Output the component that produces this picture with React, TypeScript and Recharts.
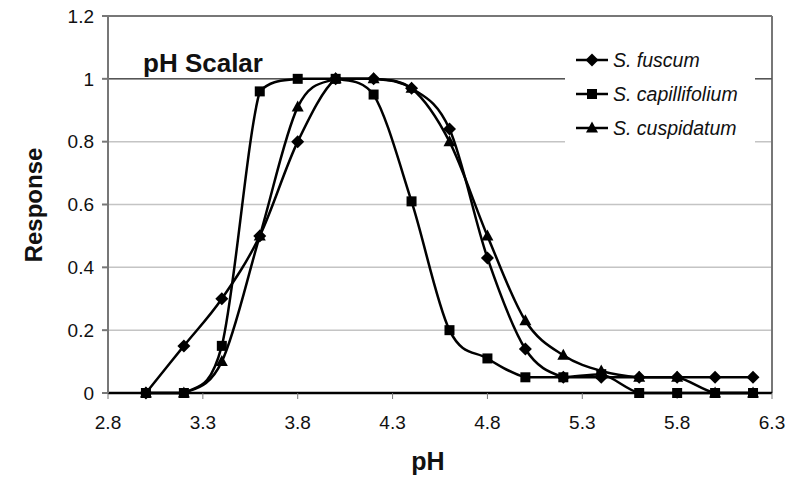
import React from "react";
import {
  LineChart,
  Line,
  XAxis,
  YAxis,
  CartesianGrid,
  ReferenceLine,
  Legend,
} from "recharts";

const phValues = [3.0, 3.2, 3.4, 3.6, 3.8, 4.0, 4.2, 4.4, 4.6, 4.8, 5.0, 5.2, 5.4, 5.6, 5.8, 6.0, 6.2];
const fuscum = [0, 0.15, 0.3, 0.5, 0.8, 1.0, 1.0, 0.97, 0.84, 0.43, 0.14, 0.05, 0.05, 0.05, 0.05, 0.05, 0.05];
const capillifolium = [0, 0, 0.15, 0.96, 1.0, 1.0, 0.95, 0.61, 0.2, 0.11, 0.05, 0.05, 0.06, 0, 0, 0, 0];
const cuspidatum = [0, 0, 0.1, 0.5, 0.91, 1.0, 1.0, 0.97, 0.8, 0.5, 0.23, 0.12, 0.07, 0.05, 0.05, 0, 0];

const xTicks = [2.8, 3.3, 3.8, 4.3, 4.8, 5.3, 5.8, 6.3];
const yTicks = [0, 0.2, 0.4, 0.6, 0.8, 1, 1.2];

const seriesNames = ["S. fuscum", "S. capillifolium", "S. cuspidatum"];

const FONT = "'Liberation Sans', Arial, Helvetica, sans-serif";

const data = phValues.map((ph, i) => ({
  ph,
  fuscum: fuscum[i],
  capillifolium: capillifolium[i],
  cuspidatum: cuspidatum[i],
}));

const clamp = (v: number, a: number, b: number) => Math.max(Math.min(a, b), Math.min(Math.max(a, b), v));

// smoothed line like the spreadsheet one, control points kept inside each segment's y range
const smoothCurve = (context: any) => {
  let pts: [number, number][] = [];
  return {
    areaStart() {},
    areaEnd() {},
    lineStart() {
      pts = [];
    },
    lineEnd() {
      if (!pts.length) return;
      context.moveTo(pts[0][0], pts[0][1]);
      for (let i = 0; i < pts.length - 1; i++) {
        const p0 = pts[i - 1] || pts[i];
        const p1 = pts[i];
        const p2 = pts[i + 1];
        const p3 = pts[i + 2] || p2;
        const lo = p1[1];
        const hi = p2[1];
        context.bezierCurveTo(
          p1[0] + (p2[0] - p0[0]) / 6,
          clamp(p1[1] + (p2[1] - p0[1]) / 6, lo, hi),
          p2[0] - (p3[0] - p1[0]) / 6,
          clamp(p2[1] - (p3[1] - p1[1]) / 6, lo, hi),
          p2[0],
          p2[1]
        );
      }
    },
    point(x: number, y: number) {
      pts.push([+x, +y]);
    },
  };
};

function Marker({ kind, cx, cy }: { kind: number; cx: number; cy: number }) {
  if (kind === 0) {
    const r = 6.5;
    return <polygon points={`${cx},${cy - r} ${cx + r},${cy} ${cx},${cy + r} ${cx - r},${cy}`} fill="#000" />;
  }
  if (kind === 1) {
    return <rect x={cx - 5} y={cy - 5} width={10} height={10} fill="#000" />;
  }
  return <polygon points={`${cx},${cy - 6.5} ${cx + 6},${cy + 4.5} ${cx - 6},${cy + 4.5}`} fill="#000" />;
}

const makeDot = (kind: number) => (p: any) => {
  if (p.cx == null || p.cy == null) return <g key={p.index} />;
  return <Marker key={p.index} kind={kind} cx={p.cx} cy={p.cy} />;
};

function LegendBox() {
  return (
    <div style={{ background: "#fff", width: 190, height: 106, boxSizing: "border-box" }}>
      {seriesNames.map((name, i) => (
        <div key={name} style={{ display: "flex", alignItems: "center", height: 34 }}>
          <svg width={48} height={16} style={{ flexShrink: 0 }}>
            <line x1={11} y1={8} x2={43} y2={8} stroke="#000" strokeWidth={2.5} />
            <Marker kind={i} cx={27} cy={8} />
          </svg>
          <span style={{ fontFamily: FONT, fontStyle: "italic", fontSize: 19.5, color: "#111" }}>{name}</span>
        </div>
      ))}
    </div>
  );
}

export default function App() {
  return (
    <div style={{ position: "absolute", left: 0, top: 0, width: 793, height: 479, background: "#fff" }}>
      <LineChart width={793} height={479} data={data} margin={{ top: 16, right: 21, left: 0, bottom: 26 }}>
        <CartesianGrid horizontal vertical={false} stroke="#c4c4c4" strokeWidth={1.5} />
        <XAxis
          type="number"
          dataKey="ph"
          domain={[2.8, 6.3]}
          ticks={xTicks}
          height={60}
          stroke="#777"
          tickSize={6}
          tickMargin={17}
          axisLine={false}
          fontSize={19}
          fontFamily={FONT}
          tick={{ fill: "#111", fontSize: 19, fontFamily: FONT }}
          label={{
            content: () => (
              <text x={428} y={470} textAnchor="middle" fontFamily={FONT} fontWeight="bold" fontSize={25} fill="#111">
                pH
              </text>
            ),
          }}
        />
        <YAxis
          type="number"
          domain={[0, 1.2]}
          ticks={yTicks}
          width={108}
          stroke="#777"
          strokeWidth={2}
          tickSize={6}
          tickMargin={8}
          fontSize={19}
          fontFamily={FONT}
          tick={{ fill: "#111", fontSize: 19, fontFamily: FONT }}
          label={{
            content: () => (
              <text
                x={42}
                y={205}
                transform="rotate(-90 42 205)"
                textAnchor="middle"
                fontFamily={FONT}
                fontWeight="bold"
                fontSize={24}
                fill="#111"
              >
                Response
              </text>
            ),
          }}
        />
        <ReferenceLine y={1.2} stroke="#777" strokeWidth={2} />
        <ReferenceLine x={6.3} stroke="#777" strokeWidth={2} />
        <ReferenceLine
          y={1}
          stroke="#555"
          strokeWidth={1.5}
          label={{
            content: () => (
              <text x={143} y={72} fontFamily={FONT} fontWeight="bold" fontSize={26} fill="#111">
                pH Scalar
              </text>
            ),
          }}
        />
        <ReferenceLine y={0} stroke="#000" strokeWidth={2.5} />
        <Legend
          layout="horizontal"
          verticalAlign="middle"
          align="center"
          wrapperStyle={{ left: 565, top: 43, width: 190 }}
          content={() => <LegendBox />}
        />
        <Line
          dataKey="fuscum"
          name={seriesNames[0]}
          type={smoothCurve as any}
          stroke="#000"
          strokeWidth={2.5}
          dot={makeDot(0)}
          isAnimationActive={false}
        />
        <Line
          dataKey="capillifolium"
          name={seriesNames[1]}
          type={smoothCurve as any}
          stroke="#000"
          strokeWidth={2.5}
          dot={makeDot(1)}
          isAnimationActive={false}
        />
        <Line
          dataKey="cuspidatum"
          name={seriesNames[2]}
          type={smoothCurve as any}
          stroke="#000"
          strokeWidth={2.5}
          dot={makeDot(2)}
          isAnimationActive={false}
        />
      </LineChart>
    </div>
  );
}
